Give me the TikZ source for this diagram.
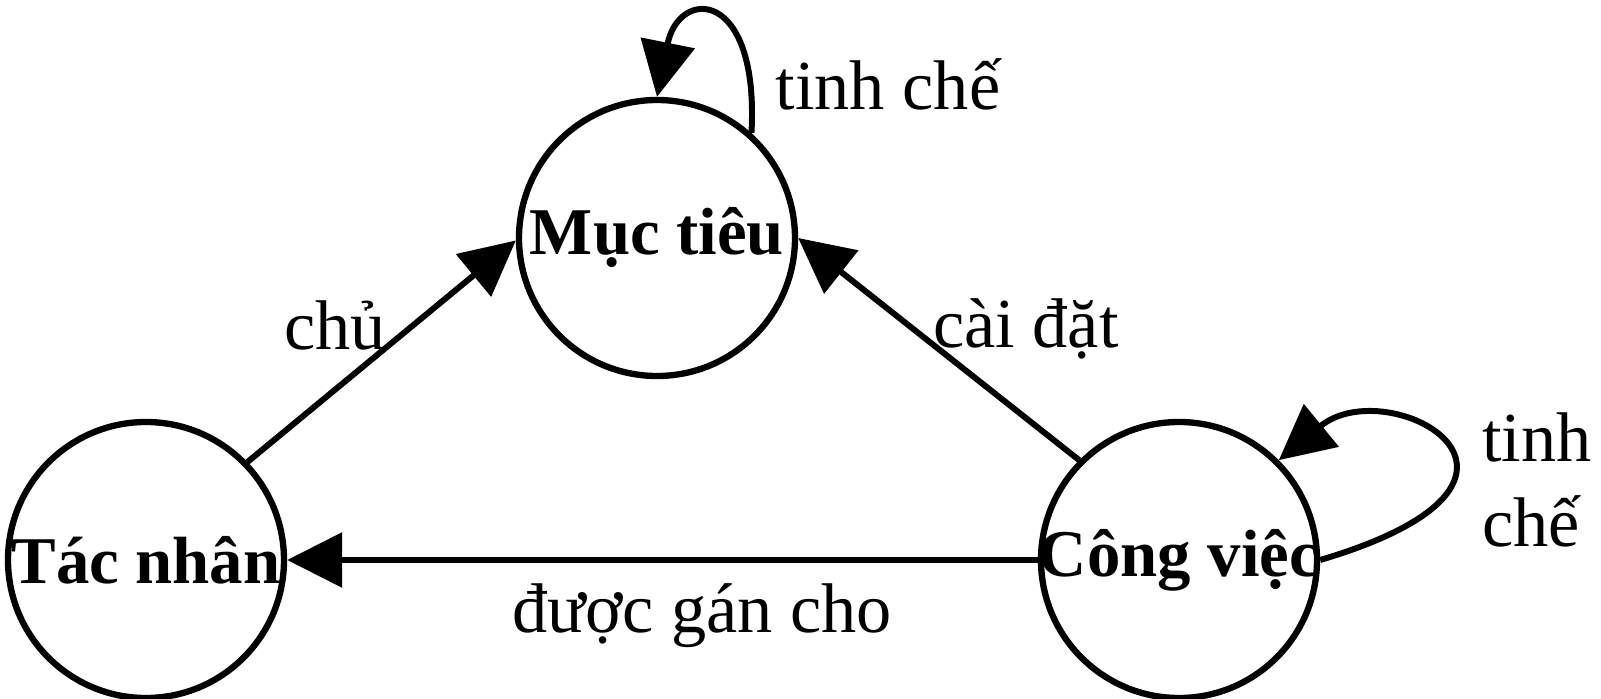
\documentclass[tikz,border=0pt]{standalone}
\usepackage{fontspec}
\setmainfont{Liberation Serif}
\usetikzlibrary{arrows.meta}
\tikzset{
  place/.style={circle, draw=black, line width=1.8pt, minimum size=2.76cm, inner sep=0pt, font=\fontsize{19}{23}\selectfont\bfseries},
  link/.style={line width=1.7pt, draw=black, -{Triangle[length=0.55cm, width=0.54cm]}},
  linklabel/.style={font=\fontsize{20}{24}\selectfont, inner sep=0pt},
}

\begin{document}
\begin{tikzpicture}
\useasboundingbox (0,0) rectangle (16.01,6.98);
\node[place] (muctieu) at (6.57,4.60) {\makebox[0pt]{Mục tiêu}};
\node[place] (tacnhan) at (1.46,1.38) {\makebox[0pt]{Tác nhân}};
\node[place] (congviec) at (11.79,1.38) {\makebox[0pt]{Công việc}};
\draw[link] (tacnhan.44) -- (muctieu.181);
\draw[link] (congviec.135) -- (muctieu.0);
\draw[link] (congviec.180) -- (tacnhan.0);
\draw[link] (muctieu.48) .. controls +(0.08,1.45) and +(0.22,1.1) .. (muctieu.90);
\draw[link] (congviec.0) .. controls +(2.7,0.8) and +(1.1,0.9) .. (congviec.45);
\node[linklabel] (chu) at (3.35,3.73) {chủ};
\node[linklabel] (caidat) at (10.26,3.69) {cài đặt};
\node[linklabel] (duocgan) at (7.02,0.82) {được gán cho};
\node[linklabel] (tinhche1) at (8.88,6.14) {tinh chế};
\node[linklabel, align=left] (tinhche2) at (15.37,2.18) {tinh\\chế};
\end{tikzpicture}
\end{document}
